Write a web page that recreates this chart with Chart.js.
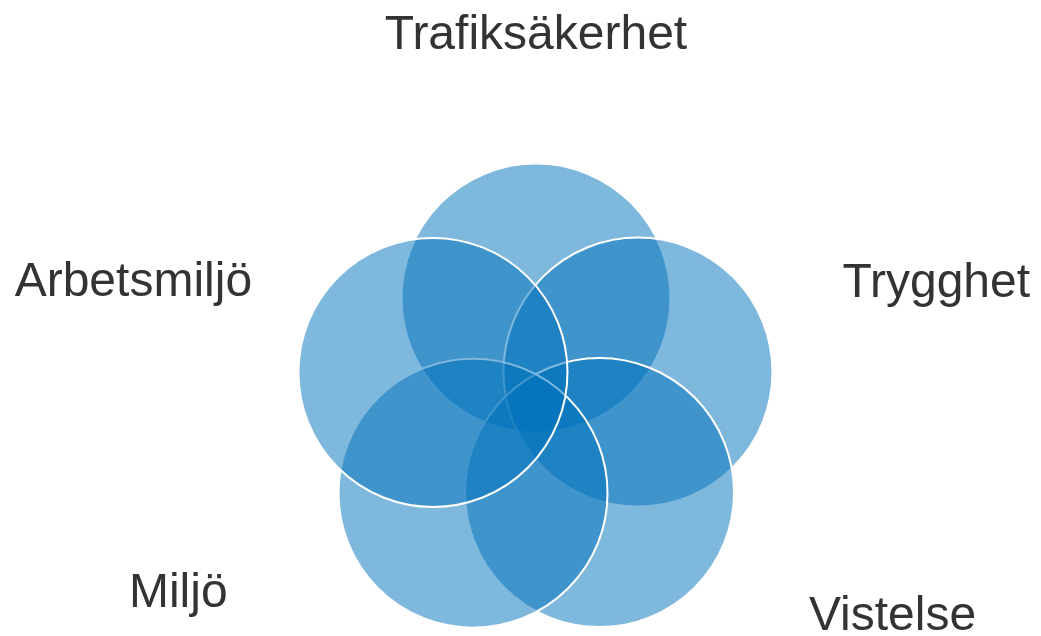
<!DOCTYPE html>
<html>
<head>
<meta charset="utf-8">
<script src="https://cdn.jsdelivr.net/npm/chart.js@4/dist/chart.umd.min.js"></script>
<style>
  html, body { margin: 0; padding: 0; background: #ffffff; }
  #wrap { width: 1041px; height: 636px; }
</style>
</head>
<body>
<div id="wrap"><canvas id="c" width="1041" height="636"></canvas></div>
<script>
// Categories in drawing order (later ones lie on top)
const categories = ["Trafiksäkerhet", "Trygghet", "Vistelse", "Miljö", "Arbetsmiljö"];
// Circle centres (diagram units, pentagon of radius 1)
const centerX = [0.000, 0.944, 0.588, -0.583, -0.954];
const centerY = [0.997, 0.312, -0.804, -0.810, 0.308];
// Bubble radii (px)
const radii = [134.5, 134.5, 134.5, 134.5, 134.5];
// Label anchor points (diagram units, text baseline centre)
const labelX = [0.000, 3.706, 3.301, -3.312, -3.728];
const labelY = [3.300, 1.009, -2.077, -1.861, 1.016];

const points = categories.map((c, i) => ({ x: centerX[i], y: centerY[i], r: radii[i] }));

const labelPlugin = {
  id: 'vennLabels',
  afterDatasetsDraw(chart) {
    const ctx = chart.ctx;
    const xs = chart.scales.x, ys = chart.scales.y;
    ctx.save();
    ctx.font = '48px "Liberation Sans", Arial, sans-serif';
    ctx.fillStyle = '#333333';
    ctx.textAlign = 'center';
    ctx.textBaseline = 'alphabetic';
    categories.forEach((c, i) => {
      ctx.fillText(c, xs.getPixelForValue(labelX[i]), ys.getPixelForValue(labelY[i]));
    });
    ctx.restore();
  }
};

new Chart(document.getElementById('c'), {
  type: 'bubble',
  data: {
    datasets: [{
      label: 'Venn',
      data: points,
      backgroundColor: 'rgba(0,114,187,0.5)',
      borderColor: '#ffffff',
      borderWidth: 2,
      hoverBorderWidth: 2,
      clip: false
    }]
  },
  options: {
    responsive: false,
    animation: false,
    events: [],
    layout: { padding: 0, autoPadding: false },
    plugins: { legend: { display: false }, tooltip: { enabled: false }, title: { display: false } },
    scales: {
      x: { type: 'linear', display: false, min: -4.963, max: 4.676 },
      y: { type: 'linear', display: false, min: -2.132, max: 3.756 }
    }
  },
  plugins: [labelPlugin]
});
</script>
</body>
</html>
